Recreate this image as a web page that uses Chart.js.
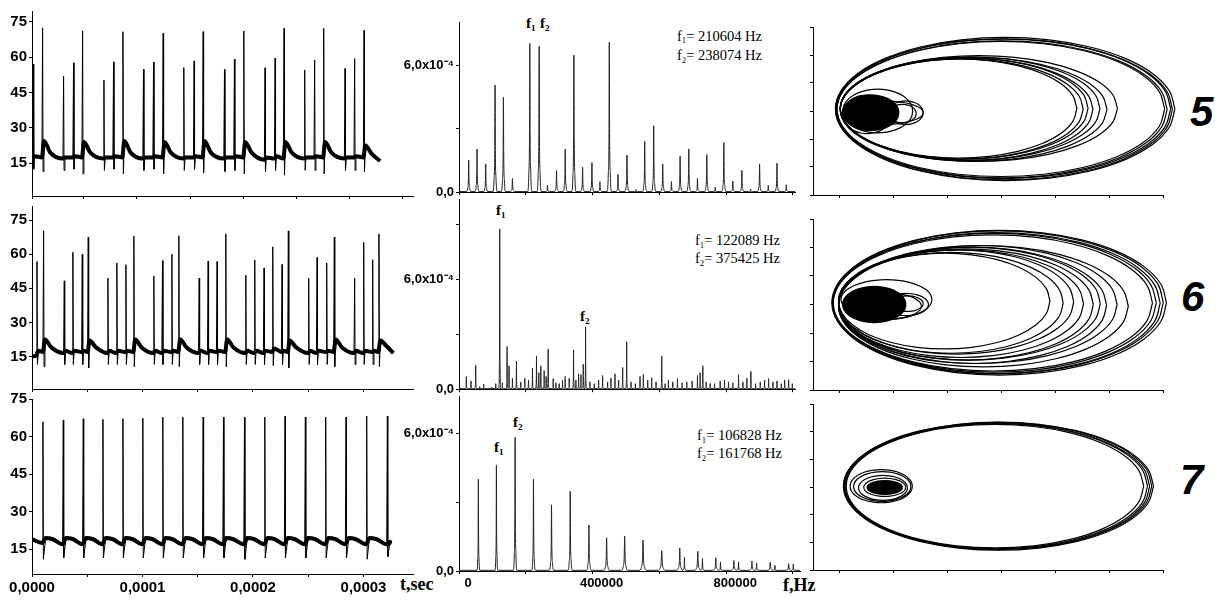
<!DOCTYPE html>
<html>
<head>
<meta charset="utf-8">
<script src="https://cdn.jsdelivr.net/npm/chart.js@4.4.0/dist/chart.umd.min.js"></script>
<style>
body { margin: 0; background: #fff; width: 1226px; height: 604px; position: relative; overflow: hidden; }
canvas { position: absolute; }
.t { position: absolute; white-space: nowrap; line-height: 1; color: #000; }
.ann { font-family: 'Liberation Serif', serif; font-size: 14.5px; }
.pk { font-family: 'Liberation Serif', serif; font-weight: bold; font-size: 15px; }
.ax { font-family: 'Liberation Serif', serif; font-weight: bold; font-size: 18px; }
.num { font-family: 'Liberation Sans', sans-serif; font-weight: bold; font-style: italic; font-size: 42px; }
sub { font-size: 0.6em; position: relative; top: 0.3em; vertical-align: baseline; line-height: 0; }
</style>
</head>
<body>

<div class="t ann" style="left:677px;top:28.5px">f<sub>1</sub>= 210604 Hz</div>
<div class="t ann" style="left:677px;top:48px">f<sub>2</sub>= 238074 Hz</div>
<div class="t ann" style="left:695px;top:233px">f<sub>1</sub>= 122089 Hz</div>
<div class="t ann" style="left:695px;top:251px">f<sub>2</sub>= 375425 Hz</div>
<div class="t ann" style="left:697px;top:428px">f<sub>1</sub>= 106828 Hz</div>
<div class="t ann" style="left:697px;top:446px">f<sub>2</sub>= 161768 Hz</div>

<div class="t pk" style="left:526px;top:16px">f<sub>1</sub></div>
<div class="t pk" style="left:540px;top:16px">f<sub>2</sub></div>
<div class="t pk" style="left:496px;top:203px">f<sub>1</sub></div>
<div class="t pk" style="left:580px;top:309px">f<sub>2</sub></div>
<div class="t pk" style="left:494px;top:440px">f<sub>1</sub></div>
<div class="t pk" style="left:513px;top:415px">f<sub>2</sub></div>

<div class="t ax" style="left:400px;top:575px">t,sec</div>
<div class="t ax" style="left:783px;top:576px">f,Hz</div>

<div class="t num" style="left:1190px;top:91px">5</div>
<div class="t num" style="left:1181px;top:276px">6</div>
<div class="t num" style="left:1180px;top:459px">7</div>

<script>
// ---------------------------------------------------------------- TIME SERIES (t in microseconds, U) ----------------------------------------------------------------
const tsYTicks = [15, 30, 45, 60, 75];
const tsTopXTicks = [0, 47, 95, 143, 191, 239, 287, 335];
const tsXTicks = [0, 50, 100, 150, 200, 250, 300];

const tsTopT    = [1.2, 9.6, 28.6, 37.6, 45.8, 65.1, 73.8, 82.3, 100.9, 110.0, 118.7, 137.4, 146.7, 154.9, 174.2, 183.2, 191.7, 210.9, 220.0, 228.1, 246.8, 255.8, 264.0, 283.3, 292.0, 300.5];
const tsTopPeak = [57.0, 72.4, 52.0, 57.6, 71.1, 50.3, 58.0, 70.8, 54.9, 57.9, 70.1, 55.6, 58.4, 70.8, 54.8, 59.2, 71.1, 55.5, 59.6, 72.2, 54.6, 58.8, 72.2, 55.2, 59.4, 71.4];
const tsTopPre  = [17.5, 17.5, 17.0, 17.5, 17.5, 17.0, 17.5, 17.5, 17.0, 17.5, 17.5, 17.0, 17.5, 17.5, 17.0, 17.5, 17.5, 16.5, 17.0, 17.0, 17.0, 17.5, 17.5, 17.0, 17.5, 17.5];
const tsTopDip  = [12.5, 11.5, 12.0, 12.5, 10.5, 12.0, 12.5, 10.5, 12.0, 12.5, 10.5, 12.0, 12.5, 11.0, 11.5, 12.0, 10.5, 11.5, 12.0, 10.0, 12.0, 12.0, 10.5, 12.0, 12.0, 11.5];
const tsTopPost = [18.0, 24.5, 17.5, 18.0, 24.0, 17.5, 18.0, 24.5, 17.5, 18.0, 24.0, 17.5, 18.0, 24.5, 17.5, 18.0, 24.0, 17.5, 18.0, 24.0, 17.5, 18.0, 24.0, 17.5, 18.0, 22.5];
const tsTopLate = [null, 19.5, null, null, 19.5, null, null, 19.5, null, null, 19.5, null, null, 19.5, null, null, 19.5, null, null, 19.5, null, null, 19.5, null, null, 19.0];
const tsTopStart = [0, 18];
const tsTopEnd   = [315, 16];

const tsMidT    = [4.5, 10.5, 29.2, 37.0, 45.5, 50.9, 68.7, 76.8, 85.0, 92.2, 110.3, 118.1, 126.6, 132.9, 151.3, 159.4, 167.5, 175.4, 193.5, 201.6, 210.0, 217.9, 226.3, 232.0, 250.4, 258.0, 266.7, 273.6, 292.0, 300.2, 308.3, 314.0];
const tsMidPeak = [56.8, 70.4, 48.3, 60.9, 60.0, 67.6, 49.5, 56.2, 55.4, 68.0, 50.4, 57.2, 60.0, 68.2, 49.5, 57.0, 56.8, 69.0, 50.8, 57.5, 54.0, 63.3, 55.5, 70.3, 49.5, 58.6, 56.2, 67.6, 49.5, 65.3, 57.6, 69.0];
const tsMidPre  = [15.5, 17.0, 16.5, 16.5, 17.0, 17.0, 16.5, 16.5, 17.0, 17.0, 16.5, 16.5, 17.0, 17.0, 16.5, 16.5, 17.0, 17.0, 16.5, 16.5, 16.5, 17.0, 17.0, 17.0, 16.5, 16.5, 17.0, 17.0, 16.5, 16.5, 17.0, 17.0];
const tsMidDip  = [11.5, 10.5, 11.5, 11.5, 11.5, 10.0, 11.5, 11.5, 11.5, 10.5, 11.5, 11.5, 11.5, 10.5, 11.5, 11.5, 11.5, 10.5, 11.5, 11.5, 11.5, 11.0, 11.5, 10.0, 11.5, 11.5, 11.5, 10.5, 11.5, 11.5, 11.5, 10.5];
const tsMidPost = [17.5, 22.5, 17.5, 17.5, 17.5, 22.0, 17.5, 17.5, 17.5, 22.5, 17.5, 17.5, 17.5, 22.5, 17.5, 17.5, 17.5, 22.5, 17.5, 17.5, 17.5, 18.5, 17.5, 22.0, 17.5, 17.5, 17.5, 22.5, 17.5, 17.5, 17.5, 22.0];
const tsMidLate = [null, 19.0, null, null, null, 19.0, null, null, null, 19.0, null, null, null, 19.0, null, null, null, 19.0, null, null, null, null, null, 19.0, null, null, null, 19.0, null, null, null, 19.5];
const tsMidStart = [0, 15];
const tsMidEnd   = [327, 16.5];

const tsBotT    = [9.9, 28.3, 46.4, 64.2, 82.3, 100.3, 118.4, 136.5, 154.9, 173.3, 192.3, 210.7, 229.0, 247.4, 265.8, 284.2, 302.9, 321.6];
const tsBotPeak = [66.0, 66.6, 67.2, 67.0, 67.2, 67.4, 67.8, 67.9, 67.9, 67.8, 67.8, 67.9, 68.2, 67.9, 67.8, 67.9, 68.3, 68.3];
const tsBotPre  = [17.5, 17.0, 17.0, 17.0, 17.0, 17.0, 17.0, 17.0, 17.0, 17.0, 17.0, 17.0, 17.0, 17.0, 17.0, 17.0, 17.0, 17.0];
const tsBotDip  = [11.0, 11.5, 11.5, 11.5, 11.5, 11.5, 11.5, 11.5, 11.5, 11.5, 11.0, 11.5, 11.5, 11.5, 11.5, 11.5, 11.0, 12.0];
const tsBotPost = [19.5, 19.5, 19.5, 19.5, 19.5, 19.5, 19.5, 19.5, 19.5, 19.5, 19.5, 19.5, 19.5, 19.5, 19.5, 19.5, 19.5, 18.0];
const tsBotLate = [19.0, 19.0, 19.0, 19.0, 19.0, 19.0, 19.0, 19.0, 19.0, 19.0, 19.0, 19.0, 19.0, 19.0, 19.0, 19.0, 19.0, null];
const tsBotStart = [0, 19];
const tsBotEnd   = [323, 17];

// ---------------------------------------------------------------- SPECTRA (f in kHz, amplitude in 1e-4) ----------------------------------------------------------------
const specXTicks = [0, 200, 400, 600, 800, 1000];
const specTopF = [29, 54, 80, 108, 133, 160, 212, 240, 265, 292, 318, 344, 370, 398, 422, 450, 476, 503, 530, 556, 583, 610, 636, 662, 688, 714, 742, 767, 793, 820, 847, 873, 900, 926, 952, 980];
const specTopH = [1.52, 2.04, 1.34, 5.07, 4.49, 0.65, 7.03, 6.90, 0.32, 1.03, 2.04, 6.48, 1.18, 1.40, 0.50, 7.09, 0.84, 1.75, 0.12, 2.41, 3.14, 1.33, 0.50, 1.70, 2.05, 0.65, 1.78, 0.23, 2.35, 0.53, 1.03, 0.15, 1.33, 0.32, 1.37, 0.35];
const specTopW = 6;

const specMidF = [22, 36, 50, 62, 74, 98, 110, 122, 130, 144, 150, 160, 172, 185, 197, 208, 220, 232, 239, 245, 255, 261, 267, 282, 290, 300, 310, 318, 330, 343, 350, 358, 365, 372, 379, 392, 405, 418, 430, 445, 455, 467, 478, 490, 502, 515, 528, 542, 552, 565, 577, 590, 607, 617, 627, 640, 654, 668, 682, 698, 714, 722, 730, 740, 752, 765, 782, 795, 807, 820, 837, 850, 862, 874, 888, 902, 915, 927, 940, 952, 965, 975, 987, 998];
const specMidH = [0.70, 0.45, 1.31, 0.15, 0.28, 0.12, 0.30, 8.75, 0.35, 2.33, 1.28, 0.60, 1.54, 0.40, 0.61, 0.50, 1.15, 1.80, 0.90, 1.28, 1.01, 0.70, 2.19, 0.58, 0.35, 0.30, 0.50, 0.70, 0.60, 2.15, 0.50, 0.84, 0.80, 1.36, 3.41, 0.40, 0.30, 0.50, 0.75, 0.40, 0.60, 0.84, 0.50, 1.19, 2.59, 0.40, 0.30, 0.70, 0.80, 0.50, 0.63, 0.40, 1.80, 0.30, 0.49, 0.40, 0.58, 0.35, 0.40, 0.45, 0.75, 0.90, 1.28, 0.40, 0.31, 0.30, 0.45, 0.50, 0.40, 0.35, 0.79, 0.40, 0.60, 0.98, 0.30, 0.40, 0.50, 0.58, 0.40, 0.45, 0.30, 0.50, 0.52, 0.30];
const specMidW = 2.5;

const specBotF = [58, 112, 168, 223, 277, 333, 389, 442, 496, 551, 607, 661, 675, 715, 729, 769, 783, 823, 837, 877, 891, 932, 946, 987, 1001];
const specBotH = [4.01, 4.62, 5.84, 4.01, 2.89, 3.49, 2.01, 1.45, 1.53, 1.35, 0.89, 1.00, 0.60, 0.86, 0.55, 0.58, 0.40, 0.46, 0.40, 0.44, 0.35, 0.39, 0.25, 0.32, 0.30];
const specBotW = [4, 4, 5, 5, 6, 6, 7, 8, 9, 10, 11, 9, 5, 9, 5, 9, 5, 9, 5, 9, 5, 9, 5, 9, 5];

// ---------------------------------------------------------------- PHASE PORTRAITS (loops: centre, half widths) ----------------------------------------------------------------
const unitX = [1, .966, .866, .707, .5, .259, 0, -.259, -.5, -.707, -.866, -.966, -1, -.966, -.866, -.707, -.5, -.259, 0, .259, .5, .707, .866, .966, 1];
const unitY = [0, .259, .5, .707, .866, .966, 1, .966, .866, .707, .5, .259, 0, -.259, -.5, -.707, -.866, -.966, -1, -.966, -.866, -.707, -.5, -.259, 0];
const phXTicks = [7.7, 23.1, 38.5, 53.8, 69.2, 84.6, 100];
const phYTicks = [0, 16.7, 33.3, 50, 66.7, 83.3, 100];

const phTopCx = [54.9, 54.6, 54.4, 54.0, 53.7, 41.6, 42.5, 43.2, 43.9, 44.9, 45.9, 47.4, 20.0, 18.5, 15.5, 26.5, 25.5];
const phTopCy = [51.2, 51.0, 51.3, 51.0, 51.2, 51.5, 51.2, 51.6, 51.0, 51.4, 51.0, 51.5, 49.0, 50.0, 48.0, 49.0, 48.5];
const phTopRx = [48.5, 48.1, 47.8, 47.2, 46.8, 33.8, 34.7, 35.4, 36.1, 37.1, 38.1, 39.6, 11.5, 10.0, 7.0, 5.0, 4.0];
const phTopRy = [42.6, 42.0, 41.5, 40.8, 40.2, 29.5, 29.8, 30.2, 30.5, 30.8, 31.0, 31.5, 7.0, 13.0, 11.5, 7.0, 5.5];
const phTopCore = [16.5, 49, 8, 10.5];

const phMidCx = [53.2, 52.8, 52.4, 51.9, 51.4, 37.5, 39.4, 40.9, 42.3, 43.7, 44.7, 45.6, 47.1, 48.7, 21.0, 20.0, 26.5, 27.0];
const phMidCy = [51.0, 51.2, 50.8, 51.0, 50.9, 52.0, 51.0, 51.5, 50.5, 50.0, 50.5, 49.5, 50.0, 49.0, 53.0, 49.0, 50.0, 50.5];
const phMidRx = [47.8, 47.3, 46.8, 46.2, 45.6, 30.2, 32.1, 33.6, 35.0, 36.4, 37.4, 38.3, 39.8, 41.4, 13.0, 11.0, 6.5, 4.5];
const phMidRy = [42.3, 41.8, 41.2, 40.6, 39.8, 28.0, 29.5, 30.5, 31.5, 32.5, 33.0, 34.0, 34.5, 35.5, 11.5, 8.0, 6.5, 4.5];
const phMidCore = [17.5, 50, 9, 10.5];

const phBotCx = [53.0, 52.8, 52.6, 52.4, 52.0, 19.5, 19.8, 20.0, 20.5];
const phBotCy = [50.5, 50.6, 50.4, 50.5, 50.5, 50.5, 50.3, 49.5, 49.8];
const phBotRx = [44.3, 44.0, 43.6, 43.2, 42.5, 8.9, 8.2, 7.0, 6.0];
const phBotRy = [38.6, 38.3, 38.0, 37.7, 37.2, 10.0, 9.0, 7.5, 5.5];
const phBotCore = [20.5, 49.7, 5, 4];

// ---------------------------------------------------------------- BUILDERS ----------------------------------------------------------------
Chart.defaults.font.family = "'Liberation Sans', Arial, sans-serif";
Chart.defaults.color = '#000';

function buildTrace(T, P, pre, dip, post, late, start, end, rise, lateAt) {
    const trace = [{x: start[0], y: start[1]}];
    const band = [{x: start[0], y: start[1]}];
    T.forEach((t, i) => {
        trace.push({x: t - 0.6, y: pre[i]}, {x: t, y: P[i]}, {x: t + 0.4, y: dip[i]}, {x: t + rise, y: post[i]});
        band.push({x: t - 0.6, y: pre[i]}, {x: t + rise, y: post[i]});
        if (late[i] !== null) {
            trace.push({x: t + lateAt, y: late[i]});
            band.push({x: t + lateAt, y: late[i]});
        }
    });
    trace.push({x: end[0], y: end[1]});
    band.push({x: end[0], y: end[1]});
    return [
        {data: band, borderColor: '#000', borderWidth: 4, borderJoinStyle: 'round', cubicInterpolationMode: 'monotone'},
        {data: trace, borderColor: '#000', borderWidth: 1, borderJoinStyle: 'round'}
    ];
}

function buildSpectrum(F, H, W, xmax) {
    const floor = 0.03;
    const pts = [{x: 0, y: floor}];
    F.forEach((f, i) => {
        const w = Array.isArray(W) ? W[i] : W, h = H[i];
        pts.push({x: f - w, y: floor}, {x: f - 0.5 * w, y: 0.12 * h}, {x: f - 0.15 * w, y: 0.4 * h}, {x: f, y: h},
                 {x: f + 0.15 * w, y: 0.4 * h}, {x: f + 0.5 * w, y: 0.12 * h}, {x: f + w, y: floor});
    });
    pts.push({x: xmax, y: floor});
    return [{data: pts, borderColor: '#222', borderWidth: 1, cubicInterpolationMode: 'monotone'}];
}

function buildLoops(cx, cy, rx, ry, core) {
    const sets = cx.map((c, i) => ({
        data: unitX.map((u, k) => ({x: c + rx[i] * u, y: cy[i] + ry[i] * unitY[k]})),
        borderColor: '#000', borderWidth: 1.2, tension: 0.4, clip: false
    }));
    sets.push({
        data: unitX.map((u, k) => ({x: core[0] + core[2] * u, y: core[1] + core[3] * unitY[k]})),
        borderColor: '#000', borderWidth: 1.5, tension: 0.4, fill: 'shape', backgroundColor: '#000', clip: false
    });
    return sets;
}

function axis(pos, min, max, tickValues, labelFn, size, fontSize, labelOffset) {
    return {
        type: 'linear', position: pos, min: min, max: max, bounds: 'data',
        afterBuildTicks: s => { s.ticks = tickValues.map(v => ({value: v})); },
        afterFit: s => { if (pos === 'left') s.width = size; else s.height = size; },
        grid: {drawOnChartArea: false, drawTicks: true, tickLength: 3, color: '#000', lineWidth: 1},
        border: {display: true, color: '#000', width: 1},
        ticks: {color: '#000', padding: 2, autoSkip: false, maxRotation: 0, labelOffset: labelOffset || 0,
                font: {size: fontSize, weight: 'bold'}, callback: labelFn}
    };
}

function makePanel(area, m, datasets, xAxis, yAxis) {
    const c = document.createElement('canvas');
    const w = m.left + (area.r - area.l) + m.right;
    const h = m.top + (area.b - area.t) + m.bottom;
    c.width = w; c.height = h;
    c.style.left = (area.l - m.left) + 'px';
    c.style.top = (area.t - m.top) + 'px';
    c.style.width = w + 'px';
    c.style.height = h + 'px';
    document.body.appendChild(c);
    return new Chart(c, {
        type: 'line',
        data: {datasets: datasets},
        options: {
            responsive: false,
            animation: false,
            events: [],
            layout: {autoPadding: false, padding: {left: 0, top: m.top, right: m.right, bottom: 0}},
            elements: {point: {radius: 0}, line: {fill: false}},
            plugins: {legend: {display: false}, tooltip: {enabled: false}},
            scales: {x: xAxis, y: yAxis}
        }
    });
}

const none = () => '';
const tsYLabel = v => String(v);
const tsXLabel = v => (v % 100 === 0) ? (v / 1e6).toFixed(4).replace('.', ',') : '';
const specYLabel = v => v === 0 ? '0,0' : (v === 6 ? '6,0x10\u207B\u2074' : '');
const specXLabel = v => (v === 0 || v === 400 || v === 800) ? String(v * 1000) : '';

// ---------------------------------------------------------------- LEFT COLUMN: U(t) ----------------------------------------------------------------
makePanel({l: 32, t: 5, r: 413, b: 199}, {left: 32, top: 5, right: 4, bottom: 8},
    buildTrace(tsTopT, tsTopPeak, tsTopPre, tsTopDip, tsTopPost, tsTopLate, tsTopStart, tsTopEnd, 1.2, 7),
    axis('bottom', 0, 344.8, tsTopXTicks, none, 8, 15),
    axis('left', 1.13, 79.57, tsYTicks, tsYLabel, 32, 15));

makePanel({l: 32, t: 199, r: 413, b: 392}, {left: 32, top: 4, right: 4, bottom: 8},
    buildTrace(tsMidT, tsMidPeak, tsMidPre, tsMidDip, tsMidPost, tsMidLate, tsMidStart, tsMidEnd, 1.2, 7),
    axis('bottom', 0, 344.8, tsXTicks, none, 8, 15),
    axis('left', 0.68, 81.26, tsYTicks, tsYLabel, 32, 15));

makePanel({l: 32, t: 392, r: 413, b: 574}, {left: 32, top: 4, right: 4, bottom: 28},
    buildTrace(tsBotT, tsBotPeak, tsBotPre, tsBotDip, tsBotPost, tsBotLate, tsBotStart, tsBotEnd, 2.5, 9),
    axis('bottom', 0, 344.8, tsXTicks, tsXLabel, 28, 15),
    axis('left', 5.1, 75.1, tsYTicks, tsYLabel, 32, 15));

// ---------------------------------------------------------------- MIDDLE COLUMN: SPECTRA ----------------------------------------------------------------
makePanel({l: 459, t: 17, r: 795, b: 194}, {left: 62, top: 4, right: 4, bottom: 8},
    buildSpectrum(specTopF, specTopH, specTopW, 1006),
    axis('bottom', 0, 1006, specXTicks, none, 8, 13),
    axis('left', 0, 8.01, [0, 3, 6], specYLabel, 62, 13));

makePanel({l: 459, t: 194, r: 795, b: 391}, {left: 62, top: 4, right: 4, bottom: 8},
    buildSpectrum(specMidF, specMidH, specMidW, 1006),
    axis('bottom', 0, 1006, specXTicks, none, 8, 13),
    axis('left', 0, 10.34, [0, 3, 6, 9], specYLabel, 62, 13));

makePanel({l: 459, t: 391, r: 800, b: 571}, {left: 62, top: 4, right: 4, bottom: 28},
    buildSpectrum(specBotF, specBotH, specBotW, 1021),
    axis('bottom', 0, 1021, specXTicks, specXLabel, 28, 13, 9),
    axis('left', 0, 7.61, [0, 3, 6], specYLabel, 62, 13));

// ---------------------------------------------------------------- RIGHT COLUMN: PHASE PORTRAITS ----------------------------------------------------------------
makePanel({l: 813, t: 25, r: 1163, b: 195}, {left: 8, top: 6, right: 25, bottom: 8},
    buildLoops(phTopCx, phTopCy, phTopRx, phTopRy, phTopCore),
    axis('bottom', 0, 100, phXTicks, none, 8, 10),
    axis('left', 0, 100, phYTicks, none, 8, 10));

makePanel({l: 813, t: 217, r: 1163, b: 390}, {left: 8, top: 6, right: 25, bottom: 8},
    buildLoops(phMidCx, phMidCy, phMidRx, phMidRy, phMidCore),
    axis('bottom', 0, 100, phXTicks, none, 8, 10),
    axis('left', 0, 100, phYTicks, none, 8, 10));

makePanel({l: 813, t: 402, r: 1163, b: 570}, {left: 8, top: 6, right: 25, bottom: 8},
    buildLoops(phBotCx, phBotCy, phBotRx, phBotRy, phBotCore),
    axis('bottom', 0, 100, phXTicks, none, 8, 10),
    axis('left', 0, 100, phYTicks, none, 8, 10));
</script>
</body>
</html>
